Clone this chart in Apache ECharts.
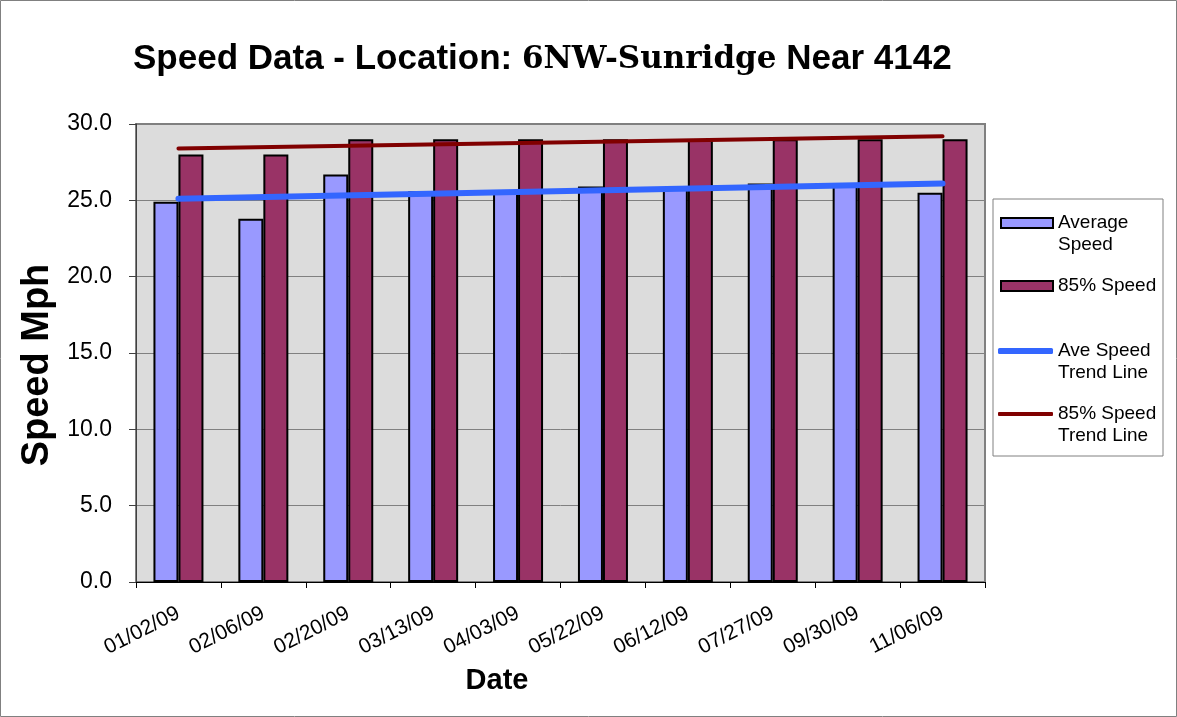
<!DOCTYPE html>
<html>
<head>
<meta charset="utf-8">
<script src="https://cdn.jsdelivr.net/npm/echarts@6/dist/echarts.min.js"></script>
<style>
  html, body { margin: 0; padding: 0; background: #fff; }
  #chart { width: 1177px; height: 717px; }
</style>
</head>
<body>
<div id="chart"></div>
<script>
// values
const dates = ['01/02/09', '02/06/09', '02/20/09', '03/13/09', '04/03/09',
               '05/22/09', '06/12/09', '07/27/09', '09/30/09', '11/06/09'];
const avgSpeed = [24.9, 23.8, 26.7, 25.6, 25.5, 25.9, 25.8, 26.1, 26.0, 25.5];
const p85Speed = [28, 28, 29, 29, 29, 29, 29, 29, 29, 29];
// trend lines: only the two end points are read, the line joins them
const avgTrend = [25.1, null, null, null, null, null, null, null, null, 26.1];
const p85Trend = [28.4, null, null, null, null, null, null, null, null, 29.2];
const yTicks = [0, 5, 10, 15, 20, 25, 30];

const FONT = 'Arial, "Liberation Sans", sans-serif';

const chart = echarts.init(document.getElementById('chart'));

// one legend per entry so each can sit where Excel put it
function legendAt(name, left, top, width, height, icon) {
  return {
    data: [name],
    orient: 'vertical',
    left: left,
    top: top,
    padding: 0,
    icon: icon,
    itemWidth: width,
    itemHeight: height,
    itemGap: 0,
    selectedMode: false,
    formatter: function (n) { return n.split('|')[0]; },
    textStyle: { fontFamily: FONT, fontSize: 19, color: '#000', lineHeight: 20 }
  };
}

function secondLine(text, y) {
  return {
    type: 'text',
    left: 1058,
    top: y - 10,
    style: { text: text, font: '19px ' + FONT, fill: '#000' }
  };
}

chart.setOption({
  backgroundColor: '#fff',
  animation: false,
  title: {
    left: 128,
    top: 37,
    text: '{a|Speed Data - Location: }{b|6NW-Sunridge}{a| Near 4142}',
    textStyle: {
      rich: {
        a: { fontFamily: FONT, fontWeight: 'bold', fontSize: 35, color: '#000' },
        b: { fontFamily: '"DejaVu Serif", serif', fontWeight: 'bold', fontSize: 31, color: '#000' }
      }
    }
  },
  grid: {
    left: 136, right: 192, top: 124, bottom: 135,
    show: true,
    backgroundColor: '#DCDCDC',
    borderColor: '#808080',
    borderWidth: 2
  },
  legend: [
    legendAt('Average|Speed', 1000, 213, 52, 10, 'rect'),
    legendAt('85% Speed', 1000, 276, 52, 10, 'rect'),
    legendAt('Ave Speed|Trend Line', 998, 341, 55, 6, 'roundRect'),
    legendAt('85% Speed|Trend Line', 998, 404, 55, 4, 'roundRect')
  ],
  graphic: [
    { type: 'rect', shape: { x: 0.5, y: 0.5, width: 1176, height: 716 },
      style: { fill: 'none', stroke: '#808080', lineWidth: 1 }, silent: true },
    { type: 'rect', shape: { x: 993, y: 199, width: 170, height: 257 },
      style: { fill: 'none', stroke: '#808080', lineWidth: 1 }, silent: true },
    secondLine('Speed', 245),
    secondLine('Trend Line', 373),
    secondLine('Trend Line', 436)
  ],
  xAxis: {
    type: 'category',
    data: dates,
    name: 'Date',
    nameLocation: 'middle',
    nameGap: 84,
    nameTextStyle: { fontFamily: FONT, fontWeight: 'bold', fontSize: 29, color: '#000', padding: [0, 127, 0, 0] },
    axisLine: { lineStyle: { color: '#000', width: 1 } },
    axisTick: { show: true, length: 6, lineStyle: { color: '#000' } },
    axisLabel: { rotate: 27, margin: 30, fontFamily: FONT, fontSize: 21, color: '#000' },
    splitLine: { show: false }
  },
  yAxis: {
    type: 'value',
    min: yTicks[0],
    max: yTicks[yTicks.length - 1],
    interval: 5,
    name: 'Speed Mph',
    nameLocation: 'middle',
    nameGap: 78,
    nameRotate: 90,
    nameTextStyle: { fontFamily: FONT, fontWeight: 'bold', fontSize: 38, color: '#000', padding: [0, 24, 0, 0] },
    axisLine: { show: true, lineStyle: { color: '#404040', width: 1 } },
    axisTick: { show: true, length: 7, lineStyle: { color: '#404040' } },
    axisLabel: {
      margin: 24, fontFamily: FONT, fontSize: 23, color: '#000',
      formatter: function (v) { return v.toFixed(1); }
    },
    splitLine: { show: true, lineStyle: { color: '#808080', width: 1 } }
  },
  series: [
    {
      name: 'Average|Speed',
      type: 'bar',
      data: avgSpeed,
      barWidth: 25,
      barGap: '0%',
      itemStyle: { color: '#9999FF', borderColor: '#000', borderWidth: 2 }
    },
    {
      name: '85% Speed',
      type: 'bar',
      data: p85Speed,
      barWidth: 25,
      barGap: '0%',
      itemStyle: { color: '#993366', borderColor: '#000', borderWidth: 2 }
    },
    {
      name: 'Ave Speed|Trend Line',
      type: 'line',
      data: avgTrend,
      connectNulls: true,
      symbol: 'none',
      lineStyle: { color: '#3366FF', width: 6, cap: 'round' },
      itemStyle: { color: '#3366FF' },
      z: 5
    },
    {
      name: '85% Speed|Trend Line',
      type: 'line',
      data: p85Trend,
      connectNulls: true,
      symbol: 'none',
      lineStyle: { color: '#800000', width: 4, cap: 'round' },
      itemStyle: { color: '#800000' },
      z: 5
    }
  ]
});
</script>
</body>
</html>
